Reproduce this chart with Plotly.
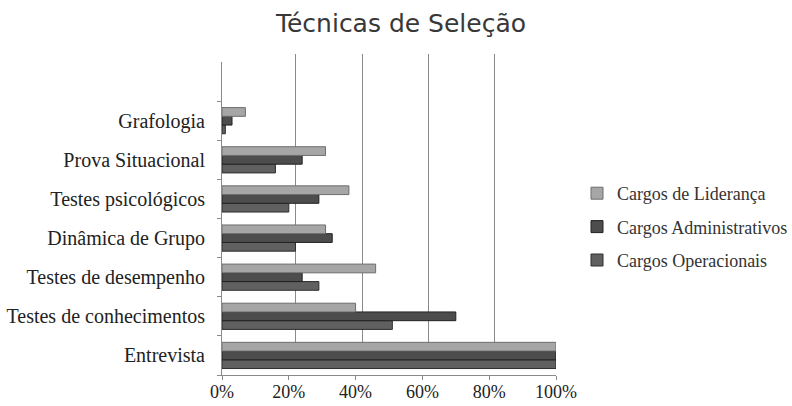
import plotly.graph_objects as go

# Selection techniques, listed from bottom to top of the chart
categories = [
    "Entrevista",
    "Testes de conhecimentos",
    "Testes de desempenho",
    "Dinâmica de Grupo",
    "Testes psicológicos",
    "Prova Situacional",
    "Grafologia",
]

# Share of companies using each technique (%)
lideranca = [100, 40, 46, 31, 38, 31, 7]
administrativos = [100, 70, 24, 33, 29, 24, 3]
operacionais = [100, 51, 29, 22, 20, 16, 1]

x_ticks = [0, 20, 40, 60, 80, 100]
x_tick_text = [f"{v}%" for v in x_ticks]

W, H = 792, 406
SERIF = "Liberation Serif"

# (name, values, fill, outline, legend rank)
series = [
    ("Cargos Operacionais", operacionais, "#606060", "#2e2e2e", 3),
    ("Cargos Administrativos", administrativos, "#4d4d4d", "#222222", 2),
    ("Cargos de Liderança", lideranca, "#a6a6a6", "#6e6e6e", 1),
]

fig = go.Figure()

# Back wall: carries only the vertical gridlines, set slightly behind the bars
fig.add_trace(go.Scatter(x=[0], y=[0], xaxis="x", yaxis="y",
                         mode="markers", marker=dict(opacity=0),
                         showlegend=False, hoverinfo="skip"))

for name, vals, color, edge, rank in series:
    fig.add_trace(go.Bar(
        y=categories, x=vals, name=name, orientation="h",
        xaxis="x2", yaxis="y2",
        marker=dict(color=color, line=dict(color=edge, width=1)),
        legendgroup=name, legendrank=rank,
    ))

fig.update_layout(
    width=W, height=H,
    margin=dict(l=0, r=0, t=0, b=0, autoexpand=False),
    paper_bgcolor="white", plot_bgcolor="rgba(0,0,0,0)",
    font=dict(family=SERIF, color="#222222"),
    barmode="group", bargap=0.33, bargroupgap=0.0,
    title=dict(text="Técnicas de Seleção", x=401 / W, xanchor="center",
               y=1 - 23 / H, yanchor="middle",
               font=dict(family="DejaVu Sans", size=25, color="#383838")),
    xaxis=dict(domain=[229.5 / W, 561 / W], range=[0, 100], tickvals=x_ticks,
               showgrid=True, gridcolor="#8a8a8a", gridwidth=1.3,
               showticklabels=False, zeroline=False, showline=False, anchor="y"),
    yaxis=dict(domain=[1 - 368 / H, 1 - 54 / H], range=[0, 1], visible=False,
               showgrid=False, anchor="x"),
    xaxis2=dict(domain=[222 / W, 556 / W], range=[0, 100], tickvals=x_ticks,
                ticktext=x_tick_text, showgrid=False, zeroline=False,
                showline=True, linecolor="#8a8a8a", linewidth=1,
                ticks="outside", ticklen=4, tickcolor="#8a8a8a",
                ticklabelstandoff=-4,
                tickfont=dict(family=SERIF, size=18, color="#222222"),
                anchor="y2"),
    yaxis2=dict(domain=[1 - 375 / H, 1 - 62 / H], type="category",
                categoryorder="array", categoryarray=categories,
                range=[-0.5, 7.5], tickson="boundaries",
                ticks="outside", ticklen=4, tickcolor="#8a8a8a",
                showline=True, linecolor="#8a8a8a", linewidth=1,
                showgrid=False, zeroline=False, ticklabelstandoff=12,
                tickfont=dict(family=SERIF, size=20, color="#222222"),
                anchor="x2"),
    legend=dict(x=577 / W, y=1 - 227 / H, xanchor="left", yanchor="middle",
                traceorder="grouped", tracegroupgap=7,
                font=dict(family=SERIF, size=18, color="#333333"),
                itemwidth=30, bgcolor="rgba(0,0,0,0)"),
)

fig.write_html("out.html")
